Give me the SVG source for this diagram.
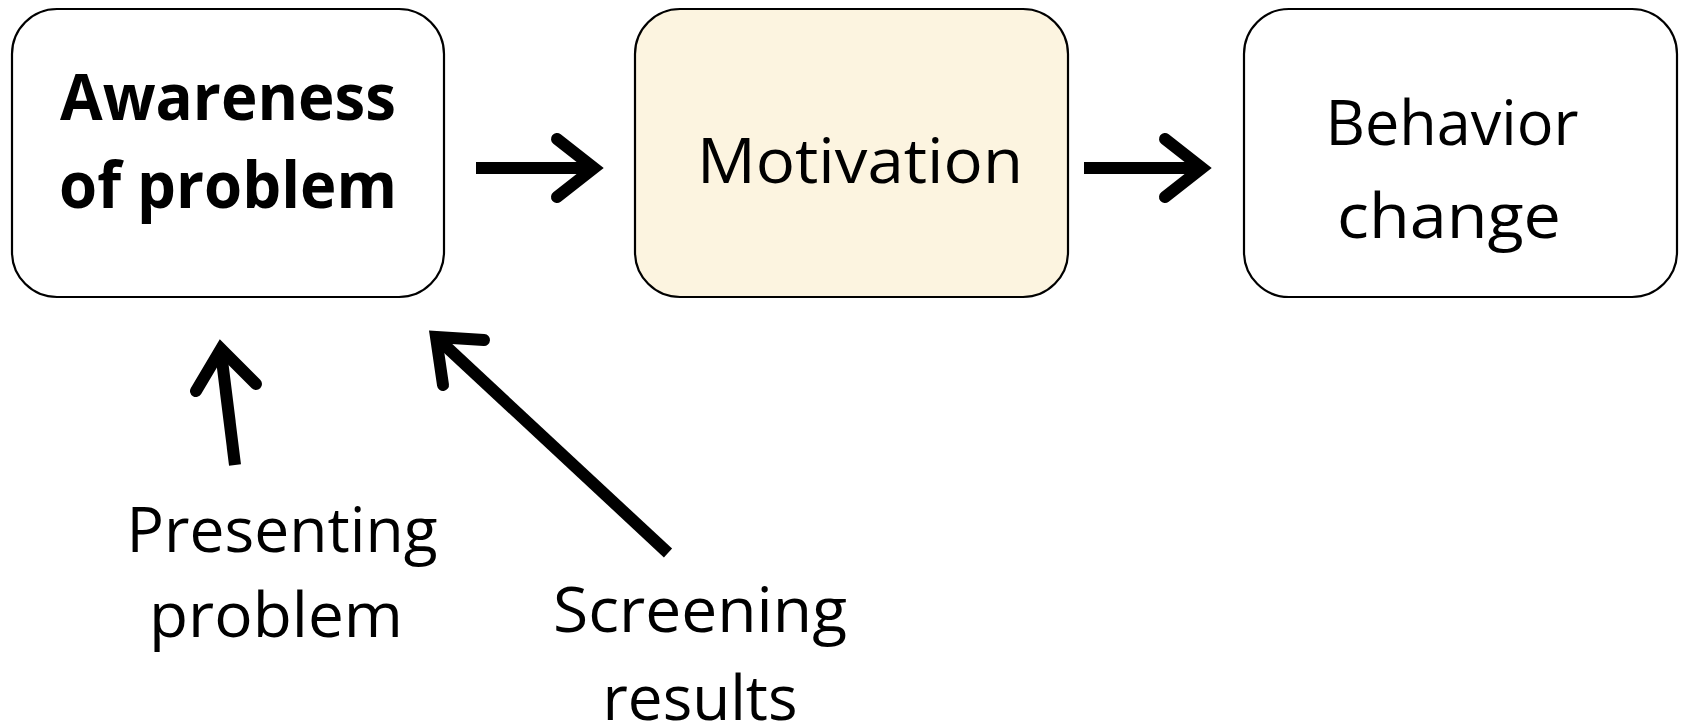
<svg xmlns="http://www.w3.org/2000/svg" width="1682" height="727" viewBox="0 0 1682 727">
<style>
.box{stroke:#000;stroke-width:2.2}
.t{font-family:"Open Sans","Noto Sans","Liberation Sans",sans-serif;font-size:63px;fill:#000;text-anchor:middle}
.b{font-weight:bold;font-size:64px}
.shaft{stroke:#000;stroke-width:12;fill:none;stroke-linecap:butt}
.head{stroke:#000;stroke-width:12;fill:none;stroke-linecap:round;stroke-linejoin:miter;stroke-miterlimit:10}
</style>
<rect width="1682" height="727" fill="#fff"/>
<g id="awareness">
<rect class="box" x="12" y="9" width="432" height="288" rx="45" fill="#fff"/>
<text class="t b" x="228" y="120" textLength="336" lengthAdjust="spacingAndGlyphs">Awareness</text>
<text class="t b" x="228" y="208" textLength="338" lengthAdjust="spacingAndGlyphs">of problem</text>
</g>
<g id="motivation">
<rect class="box" x="635" y="9" width="433" height="288" rx="45" fill="#FCF4E0"/>
<text class="t" x="860" y="183" font-size="65" textLength="326" lengthAdjust="spacingAndGlyphs">Motivation</text>
</g>
<g id="behavior">
<rect class="box" x="1244" y="9" width="433" height="288" rx="45" fill="#fff"/>
<text class="t" x="1452" y="145" textLength="253" lengthAdjust="spacingAndGlyphs">Behavior</text>
<text class="t" x="1449" y="238" textLength="224" lengthAdjust="spacingAndGlyphs">change</text>
</g>
<g id="presenting">
<text class="t" x="282" y="552" textLength="311" lengthAdjust="spacingAndGlyphs">Presenting</text>
<text class="t" x="276" y="637" textLength="254" lengthAdjust="spacingAndGlyphs">problem</text>
</g>
<g id="screening">
<text class="t" x="700" y="632" textLength="294" lengthAdjust="spacingAndGlyphs">Screening</text>
<text class="t" x="700" y="720" textLength="195" lengthAdjust="spacingAndGlyphs">results</text>
</g>
<g id="connectors">
<line class="shaft" x1="476" y1="168" x2="592" y2="168"/>
<polyline class="head" points="557,139 594,168 557,197"/>
<line class="shaft" x1="1084" y1="168" x2="1200" y2="168"/>
<polyline class="head" points="1165,139 1202,168 1165,197"/>
<line class="shaft" x1="235" y1="465" x2="221" y2="352"/>
<polyline class="head" points="196,391 221,349 256,384"/>
<line class="shaft" x1="668" y1="553" x2="438" y2="339"/>
<polyline class="head" points="443,385 436,337 484,340"/>
</g>
</svg>
